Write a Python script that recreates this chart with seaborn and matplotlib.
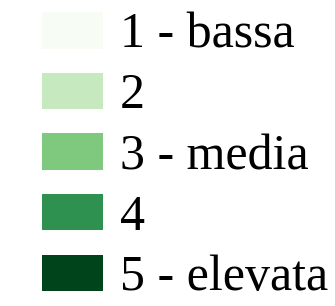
import matplotlib
matplotlib.use("Agg")
import matplotlib.pyplot as plt
from matplotlib.patches import Patch
import seaborn as sns

# legend classes and colours
labels = ["1 - bassa", "2", "3 - media", "4", "5 - elevata"]
colors = ["#f7fcf5", "#c7e9c0", "#7fc97f", "#2e9150", "#00441b"]

sns.set_theme(style="white")
plt.rcParams["font.family"] = ["Liberation Serif", "DejaVu Serif"]
plt.rcParams["text.color"] = "black"

fig = plt.figure(figsize=(3.35, 3.06), dpi=100)
ax = fig.add_axes([0, 0, 1, 1])
ax.axis("off")

palette = sns.color_palette(colors)
handles = [Patch(facecolor=c, edgecolor="none") for c in palette]

fs = 36
leg = ax.legend(handles, labels, loc="upper left", bbox_to_anchor=(0.125, 0.96),
                frameon=False, fontsize=fs, handlelength=1.22, handleheight=0.74,
                handletextpad=0.34, labelspacing=0.28, borderaxespad=0, borderpad=0)
for t in leg.get_texts():
    t.set_color("black")

fig.savefig("out.png", dpi=100)
